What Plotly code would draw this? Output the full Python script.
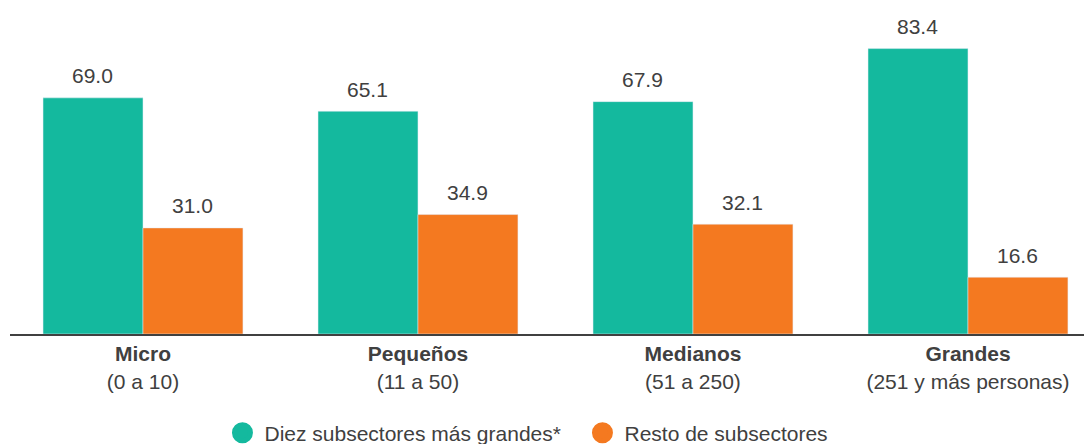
import plotly.graph_objects as go

categories = ["Micro", "Pequeños", "Medianos", "Grandes"]
subtitles = ["(0 a 10)", "(11 a 50)", "(51 a 250)", "(251 y más personas)"]
top_ten = [69.0, 65.1, 67.9, 83.4]
rest = [31.0, 34.9, 32.1, 16.6]

TEAL = "#14B99E"
ORANGE = "#F47920"
TEXT = "#404040"
FONT = "Arial, Liberation Sans, sans-serif"

fig = go.Figure()

# bars
fig.add_trace(go.Bar(x=categories, y=top_ten, marker_color=TEAL, showlegend=False))
fig.add_trace(go.Bar(x=categories, y=rest, marker_color=ORANGE, showlegend=False))

# legend entries with round markers (outline makes the dot bigger than the 16px cap)
fig.add_trace(go.Scatter(x=[None], y=[None], mode="markers", name="Diez subsectores más grandes*",
                         marker=dict(color=TEAL, size=16, symbol="circle",
                                     line=dict(color=TEAL, width=5))))
fig.add_trace(go.Scatter(x=[None], y=[None], mode="markers", name="Resto de subsectores",
                         marker=dict(color=ORANGE, size=16, symbol="circle",
                                     line=dict(color=ORANGE, width=5))))

# value labels floating above the bars
for cat, a, b in zip(categories, top_ten, rest):
    for val, shift in ((a, -50), (b, 50)):
        fig.add_annotation(x=cat, y=val, text=f"{val:.1f}", showarrow=False,
                           xshift=shift, yshift=22, font=dict(size=21, color=TEXT, family=FONT))

# page body adds an 8px offset, so the figure is sized to the visible area
fig.update_layout(
    width=1084,
    height=436,
    barmode="group",
    bargap=0.273,
    bargroupgap=0,
    plot_bgcolor="white",
    paper_bgcolor="white",
    margin=dict(l=2, r=0, t=18, b=110),
    font=dict(family=FONT, size=21, color=TEXT),
    legend=dict(
        orientation="h",
        xref="container", yref="container",
        x=0.196, xanchor="left",
        y=0.025, yanchor="middle",
        font=dict(size=21, color=TEXT),
        itemwidth=34,
        entrywidth=311,
    ),
)

fig.update_xaxes(
    tickmode="array",
    tickvals=categories,
    ticktext=[f"<b>{c}</b><br>{s}" for c, s in zip(categories, subtitles)],
    range=[-0.4836, 3.451],
    showline=True, linecolor=TEXT, linewidth=2,
    ticks="", showgrid=False,
    tickfont=dict(size=21, color=TEXT),
)
fig.update_yaxes(range=[0, 90], visible=False, showgrid=False, zeroline=False)

fig.write_html("out.html")
